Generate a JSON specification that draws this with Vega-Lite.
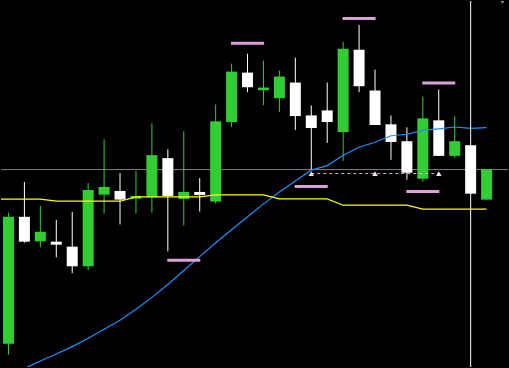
{
  "$schema": "https://vega.github.io/schema/vega-lite/v6.json",
  "width": 509,
  "height": 368,
  "autosize": {"type": "fit", "contains": "padding"},
  "padding": 0,
  "background": "#000000",
  "config": {"view": {"stroke": null}, "scale": {"continuousPadding": 0}},
  "datasets": {
    "candles": [
      {"i": 1, "o": 1.20233, "h": 1.2155, "l": 1.20123, "c": 1.2151},
      {"i": 2, "o": 1.2151, "h": 1.2186, "l": 1.2125, "c": 1.2126},
      {"i": 3, "o": 1.21263, "h": 1.2162, "l": 1.21203, "c": 1.2136},
      {"i": 4, "o": 1.2126, "h": 1.2148, "l": 1.21103, "c": 1.2123},
      {"i": 5, "o": 1.2121, "h": 1.2156, "l": 1.20943, "c": 1.21013},
      {"i": 6, "o": 1.21013, "h": 1.2185, "l": 1.20973, "c": 1.2178},
      {"i": 7, "o": 1.21733, "h": 1.2229, "l": 1.21543, "c": 1.2181},
      {"i": 8, "o": 1.2177, "h": 1.2195, "l": 1.21433, "c": 1.21683},
      {"i": 9, "o": 1.21693, "h": 1.2197, "l": 1.21543, "c": 1.2172},
      {"i": 10, "o": 1.21707, "h": 1.2245, "l": 1.21553, "c": 1.2213},
      {"i": 11, "o": 1.221, "h": 1.2219, "l": 1.21163, "c": 1.2172},
      {"i": 12, "o": 1.2169, "h": 1.2237, "l": 1.21423, "c": 1.2176},
      {"i": 13, "o": 1.2176, "h": 1.219, "l": 1.21563, "c": 1.2173},
      {"i": 14, "o": 1.21663, "h": 1.2264, "l": 1.21643, "c": 1.2247},
      {"i": 15, "o": 1.22463, "h": 1.2305, "l": 1.22413, "c": 1.2297},
      {"i": 16, "o": 1.2296, "h": 1.2315, "l": 1.22763, "c": 1.22813},
      {"i": 17, "o": 1.22783, "h": 1.2308, "l": 1.22633, "c": 1.2281},
      {"i": 18, "o": 1.22703, "h": 1.2298, "l": 1.22563, "c": 1.2292},
      {"i": 19, "o": 1.2286, "h": 1.2311, "l": 1.22383, "c": 1.22523},
      {"i": 20, "o": 1.2253, "h": 1.2263, "l": 1.2198, "c": 1.22403},
      {"i": 21, "o": 1.2258, "h": 1.2286, "l": 1.22253, "c": 1.22463},
      {"i": 22, "o": 1.22363, "h": 1.2327, "l": 1.22073, "c": 1.232},
      {"i": 23, "o": 1.2319, "h": 1.2344, "l": 1.22763, "c": 1.22823},
      {"i": 24, "o": 1.2278, "h": 1.2299, "l": 1.22433, "c": 1.22433},
      {"i": 25, "o": 1.2244, "h": 1.2253, "l": 1.22083, "c": 1.22263},
      {"i": 26, "o": 1.2227, "h": 1.2241, "l": 1.21883, "c": 1.21953},
      {"i": 27, "o": 1.21893, "h": 1.2272, "l": 1.21863, "c": 1.225},
      {"i": 28, "o": 1.2248, "h": 1.2279, "l": 1.22123, "c": 1.22123},
      {"i": 29, "o": 1.22123, "h": 1.2252, "l": 1.22103, "c": 1.2227},
      {"i": 30, "o": 1.2223, "h": 1.2223, "l": 1.21743, "c": 1.21743},
      {"i": 31, "o": 1.21683, "h": 1.2199, "l": 1.21683, "c": 1.2199}
    ],
    "ma": [
      {"i": 2, "v": 1.19985}, {"i": 3, "v": 1.2006}, {"i": 4, "v": 1.2013},
      {"i": 5, "v": 1.20205}, {"i": 6, "v": 1.2029}, {"i": 7, "v": 1.2038},
      {"i": 8, "v": 1.2047}, {"i": 9, "v": 1.2058}, {"i": 10, "v": 1.207},
      {"i": 11, "v": 1.2083}, {"i": 12, "v": 1.2097}, {"i": 13, "v": 1.2111},
      {"i": 14, "v": 1.2125}, {"i": 15, "v": 1.2138}, {"i": 16, "v": 1.2151},
      {"i": 17, "v": 1.2164}, {"i": 18, "v": 1.2176}, {"i": 19, "v": 1.2187},
      {"i": 20, "v": 1.2198}, {"i": 21, "v": 1.22025}, {"i": 22, "v": 1.2213},
      {"i": 23, "v": 1.2221}, {"i": 24, "v": 1.2226}, {"i": 25, "v": 1.22325},
      {"i": 26, "v": 1.2234}, {"i": 27, "v": 1.2238}, {"i": 28, "v": 1.22395},
      {"i": 29, "v": 1.22413}, {"i": 30, "v": 1.224}, {"i": 31, "v": 1.22407}
    ],
    "sig": [
      {"i": 0, "v": 1.21687}, {"i": 1, "v": 1.21687}, {"i": 2, "v": 1.21687}, {"i": 3, "v": 1.21687},
      {"i": 4, "v": 1.21667}, {"i": 5, "v": 1.21667}, {"i": 6, "v": 1.21667}, {"i": 7, "v": 1.21667}, {"i": 8, "v": 1.21667},
      {"i": 9, "v": 1.2171}, {"i": 10, "v": 1.2171}, {"i": 11, "v": 1.2171}, {"i": 12, "v": 1.2171}, {"i": 13, "v": 1.2171},
      {"i": 14, "v": 1.2173}, {"i": 15, "v": 1.2173}, {"i": 16, "v": 1.2173}, {"i": 17, "v": 1.2173},
      {"i": 18, "v": 1.2169}, {"i": 19, "v": 1.2169}, {"i": 20, "v": 1.2169}, {"i": 21, "v": 1.2169},
      {"i": 22, "v": 1.21627}, {"i": 23, "v": 1.21627}, {"i": 24, "v": 1.21627}, {"i": 25, "v": 1.21627}, {"i": 26, "v": 1.21627},
      {"i": 27, "v": 1.21587}, {"i": 28, "v": 1.21587}, {"i": 29, "v": 1.21587}, {"i": 30, "v": 1.21587}, {"i": 31, "v": 1.21587}
    ],
    "pink": [
      {"i": 12, "p": 1.21073}, {"i": 16, "p": 1.23255}, {"i": 20, "p": 1.21815},
      {"i": 23, "p": 1.23505}, {"i": 27, "p": 1.21765}, {"i": 28, "p": 1.22855}
    ],
    "arrows": [
      {"i": 20, "p": 1.21945}, {"i": 24, "p": 1.21945}, {"i": 28, "p": 1.21945}
    ],
    "segment": [{"i": 20, "i2": 28, "p": 1.21945}],
    "bid": [{"p": 1.21985}],
    "cross": [{"i": 30}],
    "shift": [{"i": 32, "p": 1.2368}]
  },
  "layer": [
    {
      "data": {"name": "bid"},
      "mark": {"type": "rule", "color": "#808080", "strokeWidth": 1},
      "encoding": {
        "y": {"field": "p", "type": "quantitative", "scale": {"domain": [1.2, 1.2368], "nice": false, "zero": false, "padding": 0}, "axis": null}
      }
    },
    {
      "data": {"name": "candles"},
      "mark": {"type": "rule", "strokeWidth": 1},
      "encoding": {
        "x": {"field": "i", "type": "quantitative", "scale": {"domain": [0.53125, 32.34375], "nice": false, "zero": false, "padding": 0}, "axis": null},
        "y": {"field": "h", "type": "quantitative", "scale": {"domain": [1.2, 1.2368], "nice": false, "zero": false, "padding": 0}, "axis": null},
        "y2": {"field": "l"},
        "color": {"condition": {"test": "datum.c >= datum.o", "value": "#32cd32"}, "value": "#ffffff"}
      }
    },
    {
      "data": {"name": "candles"},
      "mark": {"type": "bar", "size": 11},
      "encoding": {
        "x": {"field": "i", "type": "quantitative", "scale": {"domain": [0.53125, 32.34375], "nice": false, "zero": false, "padding": 0}, "axis": null},
        "y": {"field": "o", "type": "quantitative", "scale": {"domain": [1.2, 1.2368], "nice": false, "zero": false, "padding": 0}, "axis": null},
        "y2": {"field": "c"},
        "color": {"condition": {"test": "datum.c >= datum.o", "value": "#32cd32"}, "value": "#ffffff"}
      }
    },
    {
      "data": {"name": "ma"},
      "mark": {"type": "line", "color": "#1e90ff", "strokeWidth": 1.2, "clip": true},
      "encoding": {
        "x": {"field": "i", "type": "quantitative", "scale": {"domain": [0.53125, 32.34375], "nice": false, "zero": false, "padding": 0}, "axis": null},
        "y": {"field": "v", "type": "quantitative", "scale": {"domain": [1.2, 1.2368], "nice": false, "zero": false, "padding": 0}, "axis": null}
      }
    },
    {
      "data": {"name": "sig"},
      "mark": {"type": "line", "color": "#ffff00", "strokeWidth": 1.2, "clip": true},
      "encoding": {
        "x": {"field": "i", "type": "quantitative", "scale": {"domain": [0.53125, 32.34375], "nice": false, "zero": false, "padding": 0}, "axis": null},
        "y": {"field": "v", "type": "quantitative", "scale": {"domain": [1.2, 1.2368], "nice": false, "zero": false, "padding": 0}, "axis": null}
      }
    },
    {
      "data": {"name": "pink"},
      "mark": {"type": "tick", "orient": "horizontal", "size": 33, "thickness": 3, "color": "#dda0dd", "opacity": 1},
      "encoding": {
        "x": {"field": "i", "type": "quantitative", "scale": {"domain": [0.53125, 32.34375], "nice": false, "zero": false, "padding": 0}, "axis": null},
        "y": {"field": "p", "type": "quantitative", "scale": {"domain": [1.2, 1.2368], "nice": false, "zero": false, "padding": 0}, "axis": null}
      }
    },
    {
      "data": {"name": "segment"},
      "mark": {"type": "rule", "color": "#e0b0e0", "strokeWidth": 1, "strokeDash": [3, 3]},
      "encoding": {
        "x": {"field": "i", "type": "quantitative", "scale": {"domain": [0.53125, 32.34375], "nice": false, "zero": false, "padding": 0}, "axis": null},
        "x2": {"field": "i2"},
        "y": {"field": "p", "type": "quantitative", "scale": {"domain": [1.2, 1.2368], "nice": false, "zero": false, "padding": 0}, "axis": null}
      }
    },
    {
      "data": {"name": "arrows"},
      "mark": {"type": "point", "shape": "triangle-up", "filled": true, "size": 30, "color": "#f4e4f4", "opacity": 1},
      "encoding": {
        "x": {"field": "i", "type": "quantitative", "scale": {"domain": [0.53125, 32.34375], "nice": false, "zero": false, "padding": 0}, "axis": null},
        "y": {"field": "p", "type": "quantitative", "scale": {"domain": [1.2, 1.2368], "nice": false, "zero": false, "padding": 0}, "axis": null}
      }
    },
    {
      "data": {"name": "cross"},
      "mark": {"type": "rule", "color": "#ffffff", "strokeWidth": 1},
      "encoding": {
        "x": {"field": "i", "type": "quantitative", "scale": {"domain": [0.53125, 32.34375], "nice": false, "zero": false, "padding": 0}, "axis": null}
      }
    },
    {
      "data": {"name": "shift"},
      "mark": {"type": "point", "shape": "triangle-down", "filled": true, "size": 45, "color": "#8898ac", "opacity": 1, "clip": true},
      "encoding": {
        "x": {"field": "i", "type": "quantitative", "scale": {"domain": [0.53125, 32.34375], "nice": false, "zero": false, "padding": 0}, "axis": null},
        "y": {"field": "p", "type": "quantitative", "scale": {"domain": [1.2, 1.2368], "nice": false, "zero": false, "padding": 0}, "axis": null}
      }
    }
  ]
}
